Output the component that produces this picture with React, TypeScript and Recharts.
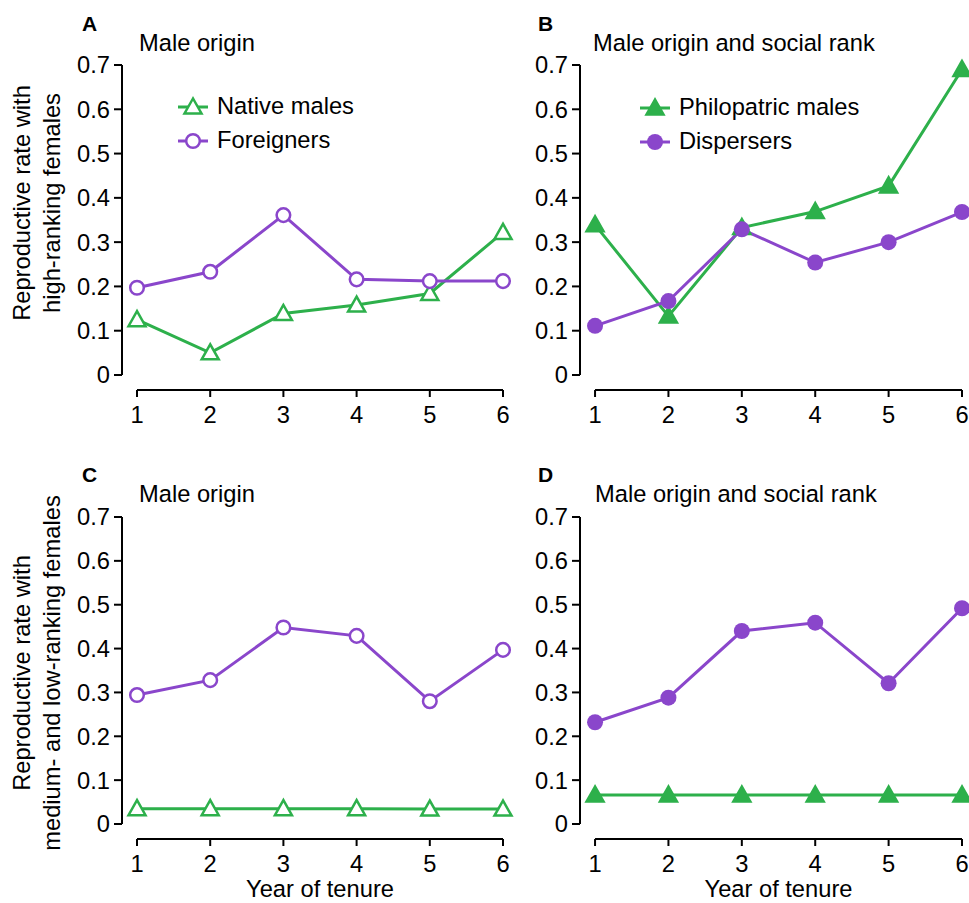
import React from "react";
import { LineChart, Line, XAxis, YAxis, ReferenceLine, Legend } from "recharts";

const years = [1, 2, 3, 4, 5, 6];
const yTicks = [0, 0.1, 0.2, 0.3, 0.4, 0.5, 0.6, 0.7];

// high-ranking females
const highNative = [0.125, 0.05, 0.139, 0.158, 0.184, 0.322];
const highForeign = [0.197, 0.233, 0.361, 0.216, 0.212, 0.212];
const highPhilo = [0.339, 0.133, 0.333, 0.369, 0.427, 0.69];
const highDisp = [0.111, 0.167, 0.329, 0.254, 0.3, 0.368];

// medium- and low-ranking females
const lowNative = [0.035, 0.035, 0.035, 0.035, 0.034, 0.034];
const lowForeign = [0.294, 0.328, 0.448, 0.429, 0.28, 0.397];
const lowPhilo = [0.066, 0.066, 0.066, 0.066, 0.066, 0.066];
const lowDisp = [0.232, 0.288, 0.44, 0.459, 0.321, 0.492];

const GREEN = "#2db04b";
const PURPLE = "#8a46cb";
const FONT = '"Liberation Sans", Arial, Helvetica, sans-serif';
const FS = 23.7;

const X_MIN = 0.795;

type Kind = "triOpen" | "triFilled" | "circOpen" | "circFilled";

function Marker({ cx, cy, kind }: { cx: number; cy: number; kind: Kind }) {
  if (cx == null || cy == null) return null;
  if (kind === "triOpen" || kind === "triFilled") {
    const pts = `${cx},${cy - 8.5} ${cx - 8.5},${cy + 6.5} ${cx + 8.5},${cy + 6.5}`;
    return (
      <polygon
        points={pts}
        fill={kind === "triOpen" ? "#fff" : GREEN}
        stroke={GREEN}
        strokeWidth={2.5}
      />
    );
  }
  if (kind === "circOpen")
    return <circle cx={cx} cy={cy} r={6.8} fill="#fff" stroke={PURPLE} strokeWidth={2.5} />;
  return <circle cx={cx} cy={cy} r={8} fill={PURPLE} />;
}

type Series = { key: string; name: string; kind: Kind; color: string; values: number[] };

function YLabel({ viewBox, lines, centerY }: any) {
  const x0 = viewBox.x - 40;
  return (
    <g>
      {lines.map((t: string, i: number) => {
        const x = x0 + i * 30;
        return (
          <text
            key={i}
            x={x}
            y={centerY}
            transform={`rotate(-90 ${x} ${centerY})`}
            textAnchor="middle"
            dominantBaseline="central"
            fontFamily={FONT}
            fontSize={FS}
            fill="#000"
          >
            {t}
          </text>
        );
      })}
    </g>
  );
}

function XLabel({ viewBox }: any) {
  const cx = viewBox.x + 15 + (viewBox.width - 15) / 2;
  return (
    <text x={cx} y={viewBox.y + 58} textAnchor="middle" fontFamily={FONT} fontSize={FS} fill="#000">
      Year of tenure
    </text>
  );
}

function Panel({
  left,
  top,
  width,
  height,
  margin,
  xAxisHeight,
  yMin,
  series,
  legendPos,
  yLabel,
  xLabel,
}: {
  left: number;
  top: number;
  width: number;
  height: number;
  margin: { top: number; right: number; left: number; bottom: number };
  xAxisHeight: number;
  yMin: number;
  series: Series[];
  legendPos?: { left: number; top: number };
  yLabel?: { lines: string[]; centerY: number };
  xLabel?: boolean;
}) {
  const data = years.map((year, i) => {
    const row: any = { year };
    series.forEach((s) => (row[s.key] = s.values[i]));
    return row;
  });

  // keep the legend in series order (the library sorts by name otherwise)
  const renderLegend = ({ payload }: any) => {
    const items = series.map((s) => {
      const entry = (payload || []).find((p: any) => p.dataKey === s.key);
      return { kind: s.kind, color: entry?.color ?? s.color, value: entry?.value ?? s.name };
    });
    return (
      <div style={{ fontFamily: FONT, fontSize: FS, color: "#000" }}>
        {items.map((entry, i) => (
          <div key={i} style={{ display: "flex", alignItems: "center", height: 34 }}>
            <svg width={30} height={20} style={{ overflow: "visible" }}>
              <line x1={0} x2={30} y1={10} y2={10} stroke={entry.color} strokeWidth={3} />
              <Marker cx={15} cy={10} kind={entry.kind} />
            </svg>
            <span style={{ marginLeft: 9, lineHeight: 1 }}>{entry.value}</span>
          </div>
        ))}
      </div>
    );
  };

  return (
    <div style={{ position: "absolute", left, top, width, height }}>
      <LineChart width={width} height={height} data={data} margin={margin}>
        <XAxis
          dataKey="year"
          type="number"
          domain={[X_MIN, 6]}
          ticks={years}
          axisLine={false}
          tickLine={{ stroke: "#000", strokeWidth: 2 }}
          tickSize={7}
          tickMargin={9}
          height={xAxisHeight}
          tick={{ fill: "#000", fontSize: FS, fontFamily: FONT }}
          label={xLabel ? <XLabel /> : undefined}
        />
        <YAxis
          type="number"
          domain={[yMin, 0.7]}
          ticks={yTicks}
          width={60}
          axisLine={false}
          tickLine={{ stroke: "#000", strokeWidth: 2 }}
          tickSize={8}
          tickMargin={4}
          tickFormatter={(v: number) => (v === 0 ? "0" : String(v))}
          tick={{ fill: "#000", fontSize: FS, fontFamily: FONT }}
          label={yLabel ? <YLabel lines={yLabel.lines} centerY={yLabel.centerY} /> : undefined}
        />
        <ReferenceLine
          segment={[
            { x: X_MIN, y: 0 },
            { x: X_MIN, y: 0.7 },
          ]}
          stroke="#000"
          strokeWidth={2}
          ifOverflow="visible"
        />
        <ReferenceLine
          segment={[
            { x: 1, y: yMin },
            { x: 6, y: yMin },
          ]}
          stroke="#000"
          strokeWidth={2}
          ifOverflow="visible"
        />
        {legendPos && (
          <Legend
            layout="vertical"
            align="center"
            verticalAlign="middle"
            wrapperStyle={{ left: legendPos.left, top: legendPos.top, width: "auto", height: "auto" }}
            content={renderLegend}
          />
        )}
        {series.map((s) => (
          <Line
            key={s.key}
            dataKey={s.key}
            name={s.name}
            stroke={s.color}
            strokeWidth={3}
            type="linear"
            isAnimationActive={false}
            activeDot={false}
            dot={(p: any) => <Marker key={`${s.key}-${p.index}`} cx={p.cx} cy={p.cy} kind={s.kind} />}
          />
        ))}
      </LineChart>
    </div>
  );
}

function Heading({ letter, title, x, letterX, y }: { letter: string; title: string; x: number; letterX: number; y: number }) {
  return (
    <>
      <div
        style={{
          position: "absolute",
          left: letterX,
          top: y - 30,
          fontFamily: FONT,
          fontWeight: "bold",
          fontSize: 21,
          lineHeight: "22px",
        }}
      >
        {letter}
      </div>
      <div
        style={{
          position: "absolute",
          left: x,
          top: y - 13,
          fontFamily: FONT,
          fontSize: FS,
          lineHeight: "26px",
          whiteSpace: "nowrap",
        }}
      >
        {title}
      </div>
    </>
  );
}

export default function App() {
  const topMargin = { top: 65, right: 12, left: 62, bottom: 20 };
  const topMarginB = { top: 65, right: 7, left: 60, bottom: 20 };
  const botMargin = { top: 65, right: 12, left: 62, bottom: 4 };
  const botMarginD = { top: 65, right: 7, left: 60, bottom: 4 };
  return (
    <div
      style={{
        position: "absolute",
        left: 0,
        top: 0,
        width: 969,
        height: 903,
        background: "#fff",
        overflow: "hidden",
        fontFamily: FONT,
      }}
    >
      <Panel
        left={0}
        top={0}
        width={515}
        height={440}
        margin={topMargin}
        xAxisHeight={30}
        yMin={-0.0339}
        series={[
          { key: "native", name: "Native males", kind: "triOpen", color: GREEN, values: highNative },
          { key: "foreign", name: "Foreigners", kind: "circOpen", color: PURPLE, values: highForeign },
        ]}
        legendPos={{ left: 178, top: 90 }}
        yLabel={{ lines: ["Reproductive rate with", "high-ranking females"], centerY: 203 }}
      />
      <Panel
        left={460}
        top={0}
        width={509}
        height={440}
        margin={topMarginB}
        xAxisHeight={30}
        yMin={-0.0339}
        series={[
          { key: "philo", name: "Philopatric males", kind: "triFilled", color: GREEN, values: highPhilo },
          { key: "disp", name: "Dispersers", kind: "circFilled", color: PURPLE, values: highDisp },
        ]}
        legendPos={{ left: 180, top: 91 }}
      />
      <Panel
        left={0}
        top={452}
        width={515}
        height={451}
        margin={botMargin}
        xAxisHeight={60}
        yMin={-0.0342}
        series={[
          { key: "native", name: "Native males", kind: "triOpen", color: GREEN, values: lowNative },
          { key: "foreign", name: "Foreigners", kind: "circOpen", color: PURPLE, values: lowForeign },
        ]}
        yLabel={{ lines: ["Reproductive rate with", "medium- and low-ranking females"], centerY: 221 }}
        xLabel
      />
      <Panel
        left={460}
        top={452}
        width={509}
        height={451}
        margin={botMarginD}
        xAxisHeight={60}
        yMin={-0.0342}
        series={[
          { key: "philo", name: "Philopatric males", kind: "triFilled", color: GREEN, values: lowPhilo },
          { key: "disp", name: "Dispersers", kind: "circFilled", color: PURPLE, values: lowDisp },
        ]}
        xLabel
      />
      <Heading letter="A" title="Male origin" letterX={82} x={139} y={43} />
      <Heading letter="B" title="Male origin and social rank" letterX={538} x={593} y={43} />
      <Heading letter="C" title="Male origin" letterX={82} x={139} y={494} />
      <Heading letter="D" title="Male origin and social rank" letterX={538} x={595} y={494} />
    </div>
  );
}
